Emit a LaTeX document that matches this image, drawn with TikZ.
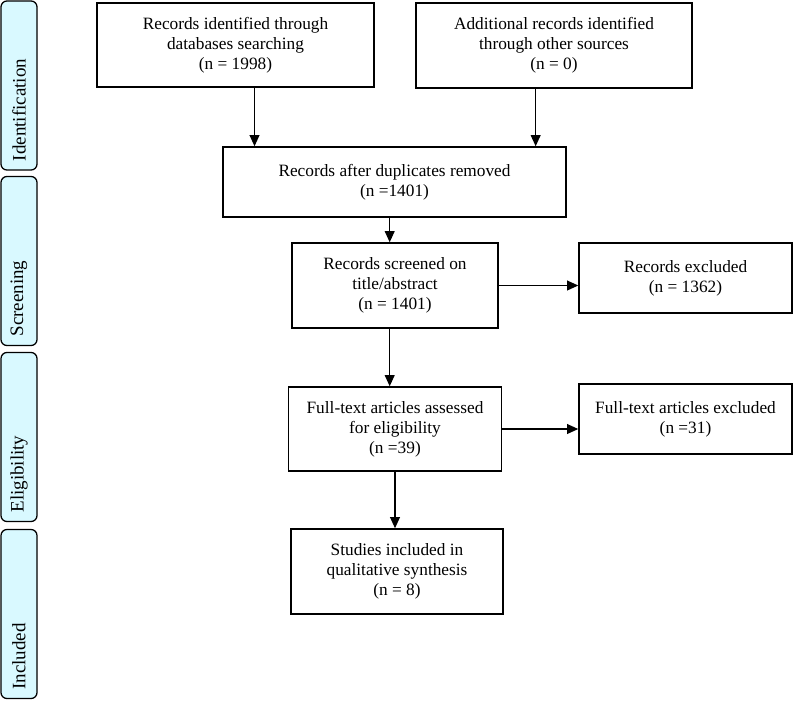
\documentclass[tikz,border=0pt]{standalone}
\usepackage{fontspec}
\setmainfont{Liberation Serif}
\usetikzlibrary{arrows.meta}
\usetikzlibrary{math}

\definecolor{StageCyan}{RGB}{217,249,255}

\begin{document}
\begin{tikzpicture}[x=0.025cm, y=-0.025cm,
    flowbox/.style 2 args={draw, line width=1pt, align=center,
        minimum width=#1, minimum height=#2, inner sep=2pt,
        font=\fontsize{12.3}{14.2}\selectfont},
    stagebox/.style={draw, line width=0.9pt, fill=StageCyan,
        rounded corners=0.15cm, rotate=90,
        minimum width=4.225cm, minimum height=0.9cm,
        text width=3.775cm, inner xsep=0pt, align=left,
        font=\fontsize{13.5}{15}\selectfont},
    flowarrow/.style={line width=1pt, -{Triangle[length=8pt,width=7pt]}},
]

% Position settings
\tikzmath{
    \SideX = 19;
    \MidX = 395;
    \RightX = 685.5;
}

\useasboundingbox (0,0) rectangle (793,700);

\coordinate (S1) at (\SideX, 85.5);
\coordinate (S2) at (\SideX, 261);
\coordinate (S3) at (\SideX, 437);
\coordinate (S4) at (\SideX, 614);

\coordinate (B1) at (235.5, 45);
\coordinate (B2) at (554, 45.5);
\coordinate (B3) at (394.5, 182);
\coordinate (B4) at (\MidX, 285.5);
\coordinate (B5) at (\RightX, 278);
\coordinate (B6) at (\MidX, 429);
\coordinate (B7) at (\RightX, 419);
\coordinate (B8) at (397, 571.5);

% Stage labels
\node[stagebox] (identification) at (S1) {Identification};
\node[stagebox] (screening) at (S2) {Screening};
\node[stagebox] (eligibility) at (S3) {Eligibility};
\node[stagebox] (included) at (S4) {Included};

% Flow boxes
\node[flowbox={6.925cm}{2.1cm}] (dbrecords) at (B1)
    {Records identified through\\databases searching\\(n = 1998)};
\node[flowbox={6.9cm}{2.125cm}] (otherrecords) at (B2)
    {Additional records identified\\through other sources\\(n = 0)};
\node[flowbox={8.575cm}{1.75cm}] (dupremoved) at (B3)
    {Records after duplicates removed\\(n =1401)};
\node[flowbox={5.15cm}{2.125cm}] (screened) at (B4)
    {Records screened on\\title/abstract\\(n = 1401)};
\node[flowbox={5.325cm}{1.75cm}] (recexcluded) at (B5)
    {Records excluded\\(n = 1362)};
\node[flowbox={5.325cm}{2.1cm}] (fulltext) at (B6)
    {Full-text articles assessed\\for eligibility\\(n =39)};
\node[flowbox={5.325cm}{1.75cm}] (ftexcluded) at (B7)
    {Full-text articles excluded\\(n =31)};
\node[flowbox={5.3cm}{2.125cm}] (studies) at (B8)
    {Studies included in\\qualitative synthesis\\(n = 8)};

% Arrows
\draw[flowarrow] (dbrecords.-66) -- (dbrecords.-66 |- dupremoved.north);
\draw[flowarrow] (otherrecords.-113) -- (otherrecords.-113 |- dupremoved.north);
\draw[flowarrow] (screened.97 |- dupremoved.south) -- (screened.97);
\draw[flowarrow] (screened.east) -- (screened.east -| recexcluded.west);
\draw[flowarrow] (screened.-97) -- (screened.-97 |- fulltext.north);
\draw[flowarrow] (fulltext.east) -- (fulltext.east -| ftexcluded.west);
\draw[flowarrow] (fulltext.south) -- (fulltext.south |- studies.north);

\end{tikzpicture}
\end{document}
